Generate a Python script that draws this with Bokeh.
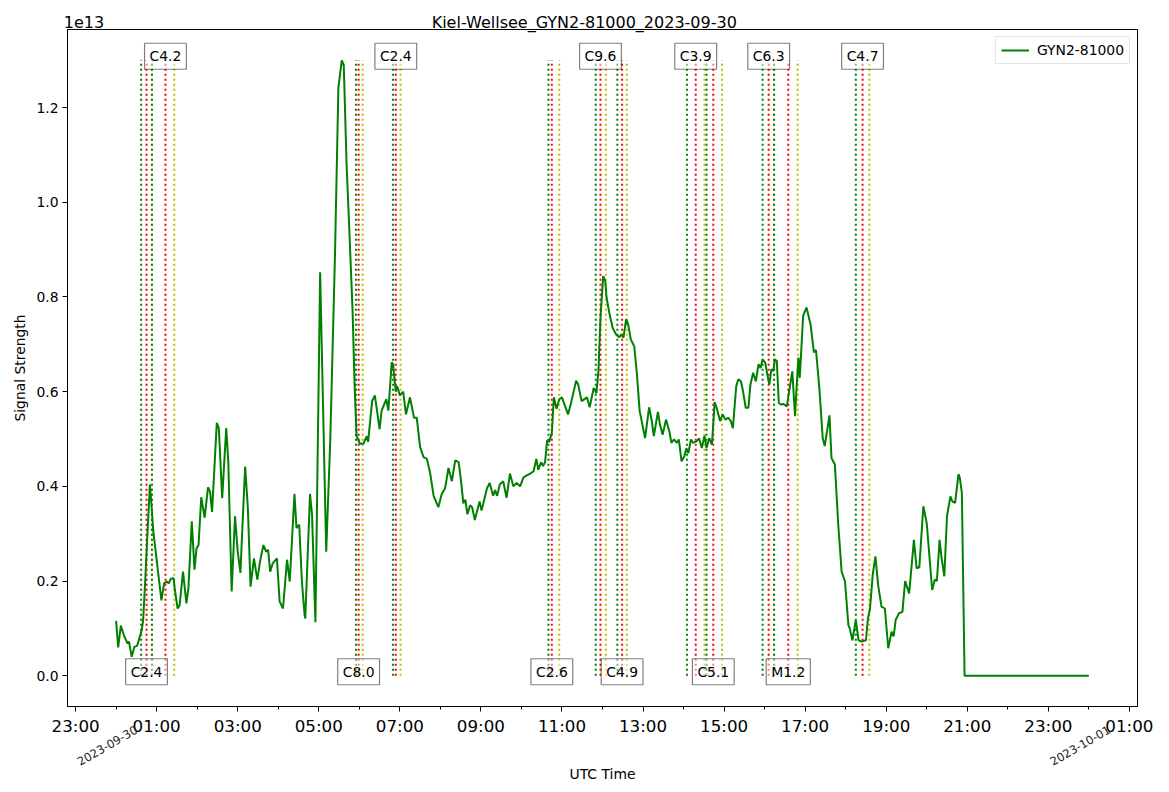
import math
import pandas as pd
from bokeh.plotting import figure
from bokeh.models import (FixedTicker, DatetimeTickFormatter, PrintfTickFormatter,
                          Label, Range1d, ColumnDataSource, DatetimeAxis)
from bokeh.embed import file_html
from bokeh.resources import INLINE

# ---------------- data (minutes after 2023-09-30 00:00 UTC, signal in 1e13) ----------------
time_min = [
    0, 3, 7, 12, 17, 19, 23, 27, 31, 33,
    38, 40, 43, 46, 50, 53, 55, 58, 62, 67,
    71, 75, 78, 81, 85, 87, 91, 94, 99, 104,
    107, 112, 116, 119, 122, 126, 131, 136, 139, 142,
    149, 152, 157, 163, 166, 171, 176, 180, 184, 186,
    191, 195, 199, 204, 209, 213, 218, 222, 225, 228,
    232, 238, 242, 247, 253, 257, 264, 267, 271, 275,
    279, 280, 287, 290, 295, 302, 311, 317, 324, 329,
    334, 337, 341, 346, 350, 353, 356, 361, 366, 371,
    373, 379, 383, 390, 393, 400, 403, 408, 410, 414,
    416, 420, 425, 429, 435, 441, 445, 450, 455, 460,
    465, 470, 477, 482, 487, 492, 497, 502, 507, 510,
    514, 517, 520, 524, 527, 531, 538, 541, 549, 553,
    558, 561, 564, 568, 573, 578, 583, 588, 593, 598,
    603, 608, 613, 618, 622, 625, 629, 632, 635, 638,
    641, 645, 648, 652, 656, 660, 665, 669, 674, 681,
    684, 689, 697, 701, 707, 711, 714, 717, 721, 724,
    726, 730, 735, 740, 745, 748, 751, 755, 758, 762,
    767, 771, 775, 779, 783, 789, 793, 796, 802, 805,
    809, 814, 819, 822, 826, 830, 833, 837, 841, 844,
    847, 851, 854, 859, 863, 867, 871, 874, 878, 882,
    886, 889, 894, 898, 902, 906, 910, 913, 918, 921,
    925, 928, 932, 936, 939, 943, 947, 951, 954, 957,
    961, 964, 967, 970, 973, 975, 978, 981, 984, 988,
    993, 996, 1001, 1005, 1007, 1010, 1012, 1017, 1022, 1028,
    1033, 1036, 1041, 1046, 1049, 1056, 1059, 1064, 1069, 1074,
    1079, 1084, 1086, 1090, 1095, 1099, 1104, 1110, 1113, 1116,
    1120, 1124, 1128, 1133, 1138, 1143, 1148, 1151, 1154, 1159,
    1164, 1168, 1174, 1181, 1185, 1189, 1195, 1200, 1208, 1212,
    1215, 1219, 1222, 1226, 1230, 1235, 1238, 1242, 1247, 1249,
    1252, 1256, 1440,
]
signal = [
    0.116, 0.060, 0.106, 0.083, 0.068, 0.072, 0.040, 0.061, 0.063, 0.073,
    0.097, 0.118, 0.199, 0.290, 0.404, 0.347, 0.305, 0.269, 0.220, 0.159,
    0.195, 0.199, 0.195, 0.205, 0.206, 0.181, 0.142, 0.149, 0.220, 0.153,
    0.185, 0.326, 0.224, 0.269, 0.276, 0.377, 0.334, 0.398, 0.389, 0.346,
    0.534, 0.523, 0.375, 0.523, 0.453, 0.178, 0.337, 0.262, 0.217, 0.284,
    0.442, 0.354, 0.188, 0.248, 0.203, 0.241, 0.276, 0.262, 0.266, 0.220,
    0.238, 0.248, 0.157, 0.142, 0.245, 0.199, 0.384, 0.312, 0.319, 0.199,
    0.128, 0.121, 0.384, 0.340, 0.113, 0.852, 0.262, 0.498, 0.890, 1.242,
    1.300, 1.290, 1.086, 0.913, 0.772, 0.615, 0.506, 0.490, 0.490, 0.506,
    0.494, 0.580, 0.592, 0.521, 0.560, 0.584, 0.560, 0.662, 0.658, 0.600,
    0.612, 0.592, 0.600, 0.552, 0.588, 0.545, 0.545, 0.483, 0.462, 0.458,
    0.427, 0.380, 0.356, 0.384, 0.396, 0.439, 0.411, 0.455, 0.451, 0.419,
    0.364, 0.372, 0.341, 0.360, 0.356, 0.329, 0.368, 0.349, 0.396, 0.407,
    0.380, 0.392, 0.380, 0.404, 0.411, 0.376, 0.427, 0.400, 0.407, 0.400,
    0.419, 0.423, 0.427, 0.432, 0.458, 0.435, 0.451, 0.443, 0.451, 0.497,
    0.494, 0.513, 0.588, 0.564, 0.584, 0.588, 0.568, 0.552, 0.580, 0.623,
    0.615, 0.580, 0.588, 0.567, 0.608, 0.597, 0.644, 0.756, 0.844, 0.834,
    0.799, 0.767, 0.735, 0.721, 0.715, 0.721, 0.714, 0.753, 0.742, 0.710,
    0.696, 0.636, 0.559, 0.531, 0.502, 0.567, 0.538, 0.506, 0.557, 0.531,
    0.509, 0.541, 0.516, 0.492, 0.499, 0.492, 0.499, 0.453, 0.463, 0.480,
    0.470, 0.499, 0.492, 0.495, 0.501, 0.481, 0.507, 0.481, 0.502, 0.488,
    0.578, 0.566, 0.538, 0.552, 0.541, 0.545, 0.538, 0.523, 0.612, 0.626,
    0.622, 0.601, 0.566, 0.566, 0.615, 0.640, 0.622, 0.658, 0.650, 0.668,
    0.661, 0.636, 0.615, 0.647, 0.644, 0.668, 0.665, 0.576, 0.573, 0.574,
    0.569, 0.598, 0.643, 0.548, 0.600, 0.672, 0.629, 0.760, 0.778, 0.742,
    0.683, 0.688, 0.608, 0.502, 0.485, 0.550, 0.460, 0.446, 0.319, 0.220,
    0.199, 0.107, 0.100, 0.075, 0.118, 0.075, 0.072, 0.075, 0.121, 0.142,
    0.213, 0.252, 0.192, 0.146, 0.142, 0.058, 0.093, 0.083, 0.118, 0.132,
    0.135, 0.200, 0.174, 0.287, 0.227, 0.229, 0.358, 0.322, 0.181, 0.203,
    0.200, 0.287, 0.248, 0.210, 0.337, 0.379, 0.368, 0.365, 0.426, 0.418,
    0.386, 0.0, 0.0,
]

# flares: class, start / peak / end (minutes after midnight)
flare_class = ["C2.4", "C4.2", "C8.0", "C2.4", "C2.6", "C9.6",
               "C4.9", "C3.9", "C5.1", "C6.3", "M1.2", "C4.7"]
flare_start = [37, 53, 355, 410, 640, 710, 742, 845, 874, 957, 974, 1095]
flare_peak = [45, 73, 359, 414, 645, 717, 749, 858, 884, 966, 995, 1105]
flare_end = [53, 86, 365, 421, 656, 725, 756, 871, 897, 974, 1009, 1115]
label_at_top = [False, True, False, True, False, True,
                False, True, False, True, False, True]
flare_line_top = 1.3

y_ticks = [0.0, 0.2, 0.4, 0.6, 0.8, 1.0, 1.2]
major_hours = list(range(-1, 26, 2))
minor_hours = list(range(0, 25, 2))
date_label_min = [0, 24 * 60]
date_label_txt = ["2023-09-30", "2023-10-01"]

title_text = "Kiel-Wellsee_GYN2-81000_2023-09-30"
exponent_text = "1e13"
series_name = "GYN2-81000"

# ---------------- helpers ----------------
base = pd.Timestamp("2023-09-30 00:00")


def ms(minutes):
    return int(round((base + pd.Timedelta(minutes=minutes)).value / 1e6))


FONT = "DejaVu Sans"

W, H = 1169, 792
MB_L, MB_R, MB_T, MB_B = 67, 32, 29, 86

p = figure(width=W, height=H, x_axis_type="datetime", title=None,
           output_backend="svg", toolbar_location=None,
           x_range=Range1d(ms(-72), ms(1512)),
           y_range=Range1d(-0.065, 1.365),
           min_border_left=MB_L, min_border_right=MB_R,
           min_border_top=MB_T, min_border_bottom=MB_B)

p.xgrid.visible = False
p.ygrid.visible = False
p.outline_line_color = "black"
p.outline_line_alpha = 1.0
p.outline_line_width = 1
p.background_fill_color = "white"
p.border_fill_color = "white"

# flare vertical lines (ordered per flare: start green, peak red, end yellow)
vx, vc = [], []
for s, pk, e in zip(flare_start, flare_peak, flare_end):
    vx += [ms(s), ms(pk), ms(e)]
    vc += ["#008000", "#ff0000", "#bfbf00"]
vsrc = ColumnDataSource(dict(x=vx, color=vc))
p.segment(x0="x", y0=0, x1="x", y1=flare_line_top, line_color="color",
          line_dash="2 3", line_width=2, source=vsrc)

# signal curve
src = ColumnDataSource(dict(t=[ms(m) for m in time_min], v=signal))
p.line("t", "v", source=src, line_color="#008000", line_width=2,
       legend_label=series_name)

# flare labels
for cls, pk, top in zip(flare_class, flare_peak, label_at_top):
    p.add_layout(Label(x=ms(pk), y=flare_line_top if top else 0.0, text=cls,
                       y_offset=4,
                       text_align="center", text_baseline="middle",
                       text_font=FONT, text_font_size="13.9px",
                       text_color="black",
                       background_fill_color="white", background_fill_alpha=0.5,
                       border_line_color="black", border_line_alpha=0.5,
                       border_line_width=1.2, padding=5))

# main axes
p.xaxis.ticker = FixedTicker(ticks=[ms(h * 60) for h in major_hours],
                             minor_ticks=[ms(h * 60) for h in minor_hours])
fmt = "%H:%M"
p.xaxis.formatter = DatetimeTickFormatter(
    microseconds=fmt, milliseconds=fmt, seconds=fmt, minsec=fmt,
    minutes=fmt, hourmin=fmt, hours=fmt, days=fmt, months=fmt, years=fmt)
p.yaxis.ticker = FixedTicker(ticks=y_ticks)
p.yaxis.formatter = PrintfTickFormatter(format="%.1f")


def style_axis(ax):
    ax.major_tick_in = 0
    ax.major_tick_out = 5
    ax.minor_tick_in = 0
    ax.minor_tick_out = 3
    ax.axis_line_color = "black"
    ax.major_tick_line_color = "black"
    ax.minor_tick_line_color = "black"
    ax.major_label_text_color = "black"
    ax.major_label_text_font = FONT
    ax.axis_label_text_font = FONT
    ax.axis_label_text_font_style = "normal"
    ax.axis_label_text_font_size = "13.9px"
    ax.axis_label_text_color = "black"


for ax in (p.xaxis[0], p.yaxis[0]):
    style_axis(ax)

p.xaxis.major_label_text_font_size = "16.7px"
p.xaxis.major_label_standoff = 4
p.yaxis.major_label_text_font_size = "13.9px"
p.yaxis.major_label_standoff = 4
p.yaxis.axis_label = "Signal Strength"
p.yaxis.axis_label_standoff = 5
p.yaxis.minor_tick_out = 0

# second bottom axis carrying the rotated date labels and the x label
date_shift = 30  # minutes: rotated labels are right-aligned at their tick
date_ticks = [ms(m + date_shift) for m in date_label_min]
date_axis = DatetimeAxis(
    ticker=FixedTicker(ticks=date_ticks, minor_ticks=[]),
    major_label_overrides={t: s for t, s in zip(date_ticks, date_label_txt)},
    major_label_orientation=math.radians(30),
    major_label_standoff=-10,
    major_label_text_font=FONT, major_label_text_font_size="11.6px",
    major_label_text_color="#222222",
    major_tick_in=0, major_tick_out=0, minor_tick_in=0, minor_tick_out=0,
    axis_line_color=None, major_tick_line_color=None, minor_tick_line_color=None,
    axis_label="UTC Time", axis_label_standoff=-7,
    axis_label_text_font=FONT, axis_label_text_font_style="normal",
    axis_label_text_font_size="13.9px", axis_label_text_color="black")
p.add_layout(date_axis, "below")

# top axis carrying the exponent and the title texts
top_ticks = [ms(-47.5), ms(693)]
top_axis = DatetimeAxis(
    ticker=FixedTicker(ticks=top_ticks, minor_ticks=[]),
    major_label_overrides={top_ticks[0]: exponent_text, top_ticks[1]: title_text},
    major_label_standoff=-2,
    major_label_text_font=FONT, major_label_text_font_size="16px",
    major_label_text_color="black",
    major_tick_in=0, major_tick_out=0, minor_tick_in=0, minor_tick_out=0,
    axis_line_color=None, major_tick_line_color=None, minor_tick_line_color=None)
p.add_layout(top_axis, "above")

# legend
lg = p.legend[0]
lg.location = "top_right"
lg.margin = 7
lg.padding = 5
lg.spacing = 0
lg.glyph_width = 28
lg.glyph_height = 14
lg.label_height = 14
lg.label_standoff = 8
lg.label_text_font = FONT
lg.label_text_font_size = "13.9px"
lg.label_text_color = "black"
lg.border_line_color = "#cccccc"
lg.border_line_width = 1
lg.background_fill_alpha = 0.8

open("out.html", "w").write(file_html(p, INLINE))
